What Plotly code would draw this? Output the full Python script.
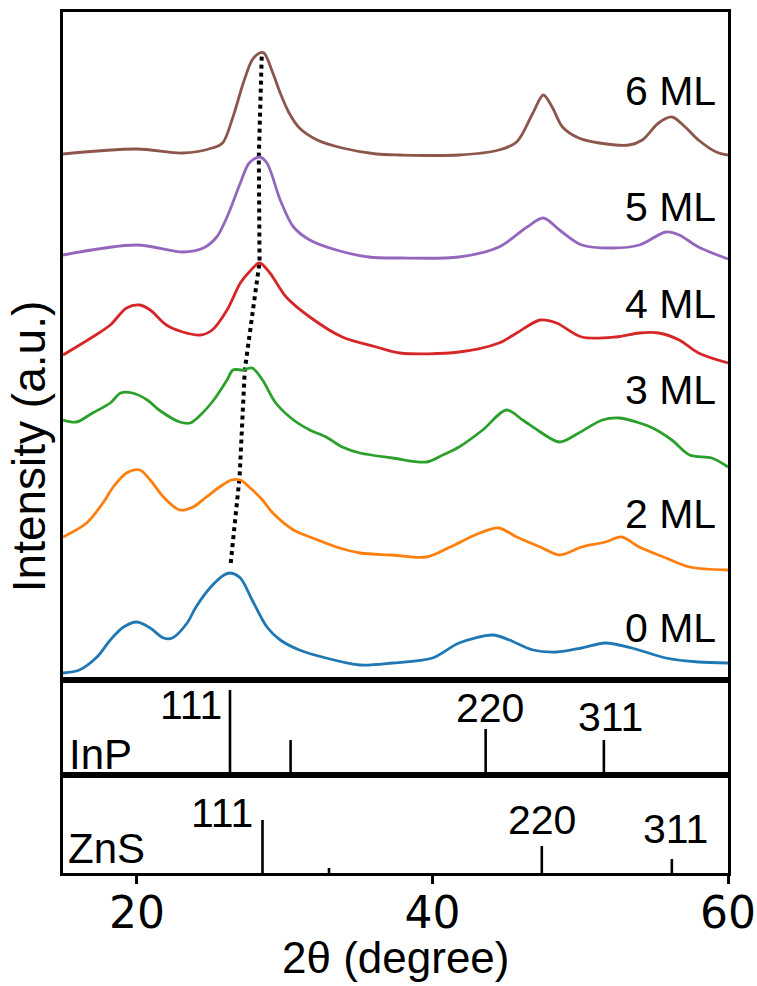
import plotly.graph_objects as go

# ---------------- data ----------------
# Displayed (offset-stacked) intensities, arbitrary units
x_0ML = [15, 16.1, 17.3, 18.2, 19.1, 20.0, 20.9, 21.8, 22.4, 23.4, 24.0, 25.0, 25.9, 26.3, 27.0, 27.8,
         28.8, 29.7, 31.0, 32.8, 35.1, 37.3, 40.0, 41.8, 44.1, 45.2, 46.8, 48.4, 50.1, 51.7, 53.5,
         55.8, 58.0, 60.0]
y_0ML = [7, 10, 23, 40, 53, 58, 52, 42, 42, 57, 73, 93, 105, 107, 102, 80,
         53, 40, 30, 22, 15, 17, 22, 37, 45, 40, 30, 28, 32, 37, 32,
         22, 18, 17]

x_2ML = [15, 16.6, 17.7, 18.4, 19.3, 20.2, 20.9, 21.8, 22.9, 23.8, 24.7, 25.6, 26.4, 27.0, 27.6, 28.5,
         29.2, 30.6, 31.9, 33.5, 35.1, 37.3, 39.6, 41.2, 43.2, 44.5, 45.7, 47.3, 48.6, 50.1, 51.7,
         52.8, 54.0, 55.8, 57.4, 60.0]
y_2ML = [143, 157, 177, 193, 207, 210, 200, 183, 170, 173, 183, 193, 200, 200, 193, 180,
         167, 150, 142, 133, 127, 125, 123, 133, 147, 152, 143, 133, 125, 133, 138,
         143, 133, 122, 113, 110]

x_3ML = [15, 15.9, 17.0, 18.2, 18.9, 19.7, 20.7, 21.5, 22.9, 23.6, 24.3, 25.2, 26.1, 26.5, 27.2, 27.8,
         28.5, 29.4, 30.6, 31.7, 32.8, 33.9, 35.1, 37.3, 39.6, 40.7, 41.8, 43.4, 45.0, 46.1, 47.3,
         48.6, 49.9, 51.5, 52.6, 53.8, 54.9, 56.2, 57.4, 58.9, 60.0]
y_3ML = [260, 258, 267, 277, 287, 287, 280, 270, 258, 257, 265, 280, 300, 310, 310, 312,
         300, 277, 260, 250, 243, 233, 227, 222, 218, 225, 233, 250, 270, 260, 248,
         238, 247, 260, 262, 258, 252, 240, 225, 222, 213]

x_4ML = [15, 17.0, 18.2, 19.3, 20.2, 20.9, 22.0, 23.1, 24.3, 25.1, 26.1, 27.0, 27.6, 28.3, 29.0, 30.1,
         31.7, 33.9, 36.2, 37.8, 41.8, 44.5, 45.7, 47.3, 48.4, 50.1, 52.4, 54.0, 55.3, 56.7, 58.0, 60.0]
y_4ML = [325, 343, 355, 372, 375, 370, 355, 348, 345, 350, 370, 397, 408, 417, 407, 383,
         363, 343, 333, 327, 328, 337, 347, 360, 357, 343, 343, 347, 347, 340, 327, 317]

x_5ML = [15, 20.0, 23.1, 24.5, 25.4, 26.1, 27.0, 27.6, 28.3, 28.8, 29.7, 30.6, 31.7, 33.5, 35.7, 37.8,
         41.8, 44.5, 46.4, 47.5, 48.6, 50.1, 52.2, 54.0, 55.8, 56.7, 58.0, 60.0]
y_5ML = [425, 435, 428, 432, 443, 463, 497, 517, 523, 517, 480, 453, 440, 430, 423, 422,
         423, 433, 453, 462, 450, 435, 432, 435, 448, 445, 433, 421]

x_6ML = [15, 20.0, 23.1, 25.1, 25.8, 26.5, 27.2, 27.8, 28.3, 28.6, 29.2, 29.7, 30.3, 31.0, 32.2, 33.9,
         36.2, 37.8, 41.8, 44.5, 45.7, 46.8, 47.5, 48.1, 48.8, 49.9, 51.3, 53.3, 54.2, 55.3, 56.2,
         57.1, 58.0, 59.2, 60.0]
y_6ML = [526, 531, 527, 532, 537, 563, 597, 620, 627, 627, 607, 587, 567, 552, 540, 532,
         526, 525, 525, 530, 538, 567, 585, 573, 553, 542, 537, 535, 540, 557, 563,
         553, 540, 528, 525]

series_names = ["0 ML", "2 ML", "3 ML", "4 ML", "5 ML", "6 ML"]
series_x = [x_0ML, x_2ML, x_3ML, x_4ML, x_5ML, x_6ML]
series_y = [y_0ML, y_2ML, y_3ML, y_4ML, y_5ML, y_6ML]
series_colors = ["#1f77b4", "#ff7f0e", "#2ca02c", "#d62728", "#9467bd", "#8c564b"]
label_y = [52, 166, 290, 376, 473, 589]

# peak shift guide (dotted line through the (111) peaks)
peak_x = [26.35, 26.95, 27.3, 28.3, 28.25, 28.45]
peak_y = [117, 203, 310, 418, 523, 625]

# reference patterns (relative stick heights)
inp_pos = [26.3, 30.4, 43.6, 51.6]
inp_int = [0.895, 0.368, 0.484, 0.368]
inp_labels = ["111", "", "220", "311"]
inp_label_x = [23.65, None, 43.92, 52.03]
inp_label_y = [0.74, None, 0.71, 0.61]

zns_pos = [28.5, 33.0, 47.4, 56.2]
zns_int = [0.541, 0.051, 0.276, 0.143]
zns_labels = ["111", "", "220", "311"]
zns_label_x = [25.74, None, 47.43, 56.42]
zns_label_y = [0.61, None, 0.54, 0.45]

x_ticks = [20, 40, 60]

# ---------------- figure ----------------
fig = go.Figure()

fig.add_trace(go.Scatter(x=peak_x, y=peak_y, mode="lines", xaxis="x", yaxis="y",
                         line=dict(color="black", width=4, dash="dot"), showlegend=False))

for xs, ys, c in zip(series_x, series_y, series_colors):
    fig.add_trace(go.Scatter(x=xs, y=ys, mode="lines", xaxis="x", yaxis="y",
                             line=dict(color=c, width=2.8, shape="spline", smoothing=0.9),
                             showlegend=False))

def sticks(pos, inten):
    xs, ys = [], []
    for p, h in zip(pos, inten):
        xs += [p, p, None]
        ys += [0, h, None]
    return xs, ys

sx, sy = sticks(inp_pos, inp_int)
fig.add_trace(go.Scatter(x=sx, y=sy, mode="lines", xaxis="x2", yaxis="y2",
                         line=dict(color="black", width=2.6), showlegend=False))
sx, sy = sticks(zns_pos, zns_int)
fig.add_trace(go.Scatter(x=sx, y=sy, mode="lines", xaxis="x3", yaxis="y3",
                         line=dict(color="black", width=2.6), showlegend=False))

TXT = "Liberation Sans, Arial, sans-serif"
annotations = []
for name, ly in zip(series_names, label_y):
    annotations.append(dict(x=59.3, y=ly, xref="x", yref="y", text=name, showarrow=False,
                            xanchor="right", yanchor="middle",
                            font=dict(family=TXT, size=41, color="black")))
for lab, lx, ly in zip(inp_labels, inp_label_x, inp_label_y):
    if lab:
        annotations.append(dict(x=lx, y=ly, xref="x2", yref="y2", text=lab, showarrow=False,
                                xanchor="center", yanchor="middle",
                                font=dict(family=TXT, size=41, color="black")))
for lab, lx, ly in zip(zns_labels, zns_label_x, zns_label_y):
    if lab:
        annotations.append(dict(x=lx, y=ly, xref="x3", yref="y3", text=lab, showarrow=False,
                                xanchor="center", yanchor="middle",
                                font=dict(family=TXT, size=41, color="black")))
annotations.append(dict(x=15.3, y=0.22, xref="x2", yref="y2", text="InP", showarrow=False,
                        xanchor="left", yanchor="middle", font=dict(family=TXT, size=42, color="black")))
annotations.append(dict(x=15.2, y=0.25, xref="x3", yref="y3", text="ZnS", showarrow=False,
                        xanchor="left", yanchor="middle", font=dict(family=TXT, size=42, color="black")))
annotations.append(dict(x=0.5, y=-0.098, xref="paper", yref="paper", text="2θ (degree)", showarrow=False,
                        xanchor="center", yanchor="middle", font=dict(family=TXT, size=44, color="black")))
annotations.append(dict(x=-0.052, y=0.495, xref="paper", yref="paper", text="Intensity (a.u.)",
                        showarrow=False, textangle=-90, xanchor="center", yanchor="middle",
                        font=dict(family=TXT, size=46, color="black")))

axis_line = dict(showline=True, linecolor="black", linewidth=2.5, mirror=True,
                 showgrid=False, zeroline=False, automargin=False)

top_dom = (873 - 680) / 861
mid_dom = (873 - 775) / 861

fig.update_layout(
    width=757, height=986,
    margin=dict(l=63, r=29, t=12, b=113),
    paper_bgcolor="white", plot_bgcolor="white",
    showlegend=False,
    annotations=annotations,
    xaxis=dict(domain=[0, 1], range=[15, 60], anchor="y", showticklabels=False, ticks="", **axis_line),
    yaxis=dict(domain=[top_dom, 1], range=[0, 668], showticklabels=False, ticks="", **axis_line),
    xaxis2=dict(domain=[0, 1], range=[15, 60], anchor="y2", matches="x", showticklabels=False,
                ticks="", **axis_line),
    yaxis2=dict(domain=[mid_dom, top_dom], range=[0, 1], showticklabels=False, ticks="", **axis_line),
    xaxis3=dict(domain=[0, 1], range=[15, 60], anchor="y3", matches="x", tickmode="array",
                tickvals=x_ticks, ticktext=[str(t) for t in x_ticks], ticks="outside", ticklen=8,
                tickwidth=2.5, tickcolor="black", ticklabelstandoff=-9,
                tickfont=dict(family="DejaVu Sans", size=44, color="black"), **axis_line),
    yaxis3=dict(domain=[0, mid_dom], range=[0, 1], showticklabels=False, ticks="", **axis_line),
)

fig.write_html("out.html")
